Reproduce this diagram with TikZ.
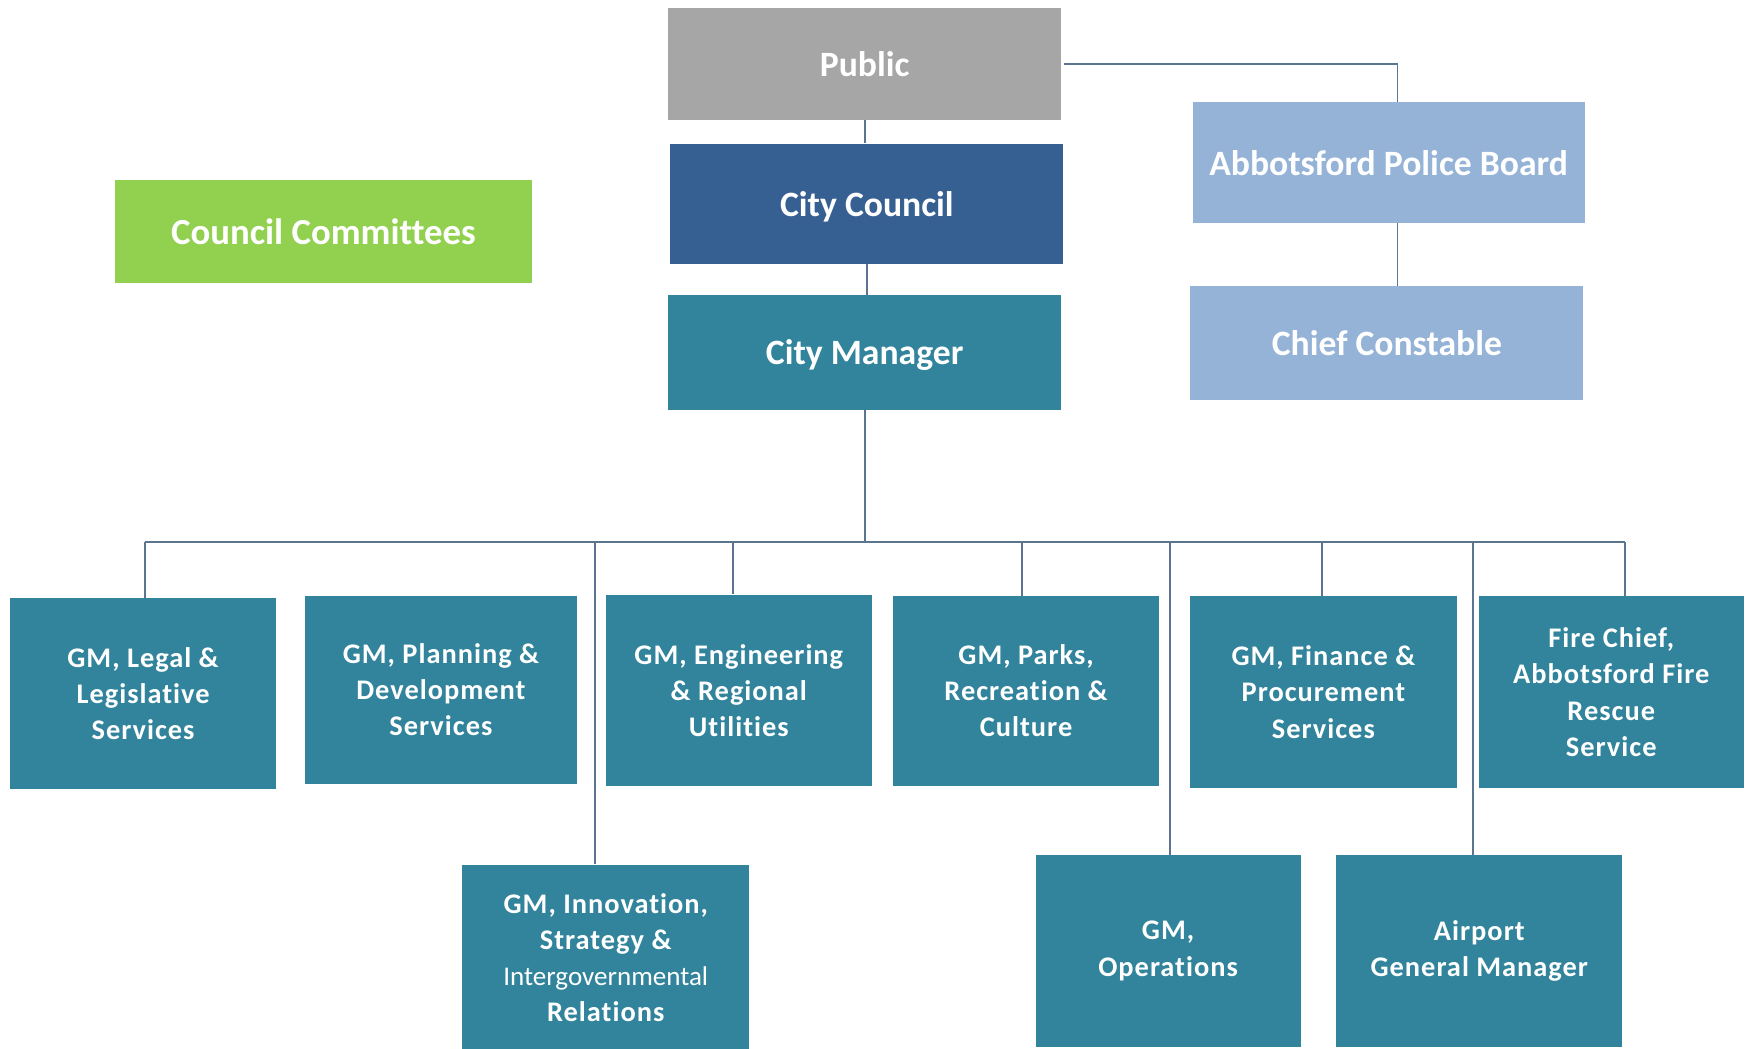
\documentclass[tikz,border=0pt]{standalone}
\usepackage{fontspec}
\setmainfont{Carlito}[Ligatures=NoCommon]
\newfontfamily\rowfont[LetterSpace=3.5,Ligatures=NoCommon]{Carlito}
\newfontfamily\rowplain[Ligatures=NoCommon]{Carlito}
\definecolor{pubgray}{HTML}{A6A6A6}
\definecolor{councilblue}{HTML}{376092}
\definecolor{teal}{HTML}{31849B}
\definecolor{green}{HTML}{92D050}
\definecolor{lightblue}{HTML}{95B3D7}
\definecolor{linec}{HTML}{5B7590}
\tikzset{
  box/.style={rectangle, inner sep=0pt, text=white, align=center},
  topbox/.style={box, text depth=0pt, font=\fontsize{32}{38}\selectfont\bfseries},
  rowbox/.style={box, fill=teal, font=\fontsize{25.5}{32.5}\selectfont\rowfont\bfseries},
  conn/.style={draw=linec, line width=1.6pt}
}
\begin{document}
\begin{tikzpicture}[x=1pt,y=-1pt]
\useasboundingbox (0,0) rectangle (1568,942);
% top column
\node[topbox, fill=pubgray, minimum width=353, minimum height=101] (pub) at (776.5,57.5) {Public};
\node[topbox, fill=councilblue, minimum width=353, minimum height=108] (cc) at (778.5,183) {City Council};
\node[topbox, fill=teal, minimum width=353, minimum height=103] (cm) at (776.5,316.5) {City Manager};
\node[box, fill=green, minimum width=375, minimum height=92, font=\fontsize{33}{38}\selectfont\bfseries] (com) at (290.5,208) {Council Committees};
\node[topbox, fill=lightblue, minimum width=352, minimum height=108] (apb) at (1247,146) {Abbotsford Police Board};
\node[topbox, fill=lightblue, minimum width=353, minimum height=102] (chief) at (1245.5,308) {Chief Constable};
% first row
\node[rowbox, minimum width=239, minimum height=172] (legal) at (128.5,623) {GM, Legal \&\\Legislative\\Services};
\node[rowbox, minimum width=244, minimum height=169] (plan) at (396,619.5) {GM, Planning \&\\Development\\Services};
\node[rowbox, minimum width=239, minimum height=172] (eng) at (663.5,620) {GM, Engineering\\\& Regional\\Utilities};
\node[rowbox, minimum width=239, minimum height=171] (parks) at (921.5,620.5) {GM, Parks,\\Recreation \&\\Culture};
\node[rowbox, minimum width=239, minimum height=173] (fin) at (1188.5,621.5) {GM, Finance \&\\Procurement\\Services};
\node[rowbox, minimum width=238, minimum height=173] (fire) at (1447,621.5) {Fire Chief,\\Abbotsford Fire\\Rescue\\Service};
% second row
\node[rowbox, minimum width=258, minimum height=167] (innov) at (544,860) {GM, Innovation,\\Strategy \&\\{\fontsize{24.3}{32.5}\selectfont\rowplain\mdseries Intergovernmental}\\Relations};
\node[rowbox, minimum width=238, minimum height=172] (ops) at (1049,854) {GM,\\Operations};
\node[rowbox, minimum width=257, minimum height=172] (air) at (1328.5,854) {Airport\\General Manager};
% connectors
\coordinate (bar) at (777,487);
\draw[conn] (pub.south) -- (pub.south |- cc.north);
\draw[conn] (cc.south) -- (cc.south |- cm.north);
\draw[conn] ([xshift=2pt]pub.east) -| ([xshift=8pt]apb.north);
\draw[conn] ([xshift=8pt]apb.south) -- ([xshift=8pt]apb.south |- chief.north);
\draw[conn] (cm.south) -- (cm.south |- bar);
\draw[conn] ([xshift=1.5pt]legal.north |- bar) -- ([xshift=12pt]fire.north |- bar);
\draw[conn] ([xshift=1.5pt]legal.north) -- ([xshift=1.5pt]legal.north |- bar);
\draw[conn] ([xshift=-10pt]innov.north) -- ([xshift=-10pt]innov.north |- bar);
\draw[conn] ([xshift=-5.5pt]eng.north) -- ([xshift=-5.5pt]eng.north |- bar);
\draw[conn] ([xshift=-3.5pt]parks.north) -- ([xshift=-3.5pt]parks.north |- bar);
\draw[conn] ([xshift=2pt]ops.north) -- ([xshift=2pt]ops.north |- bar);
\draw[conn] ([xshift=-1.5pt]fin.north) -- ([xshift=-1.5pt]fin.north |- bar);
\draw[conn] ([xshift=-5.5pt]air.north) -- ([xshift=-5.5pt]air.north |- bar);
\draw[conn] ([xshift=12pt]fire.north) -- ([xshift=12pt]fire.north |- bar);
\end{tikzpicture}
\end{document}
